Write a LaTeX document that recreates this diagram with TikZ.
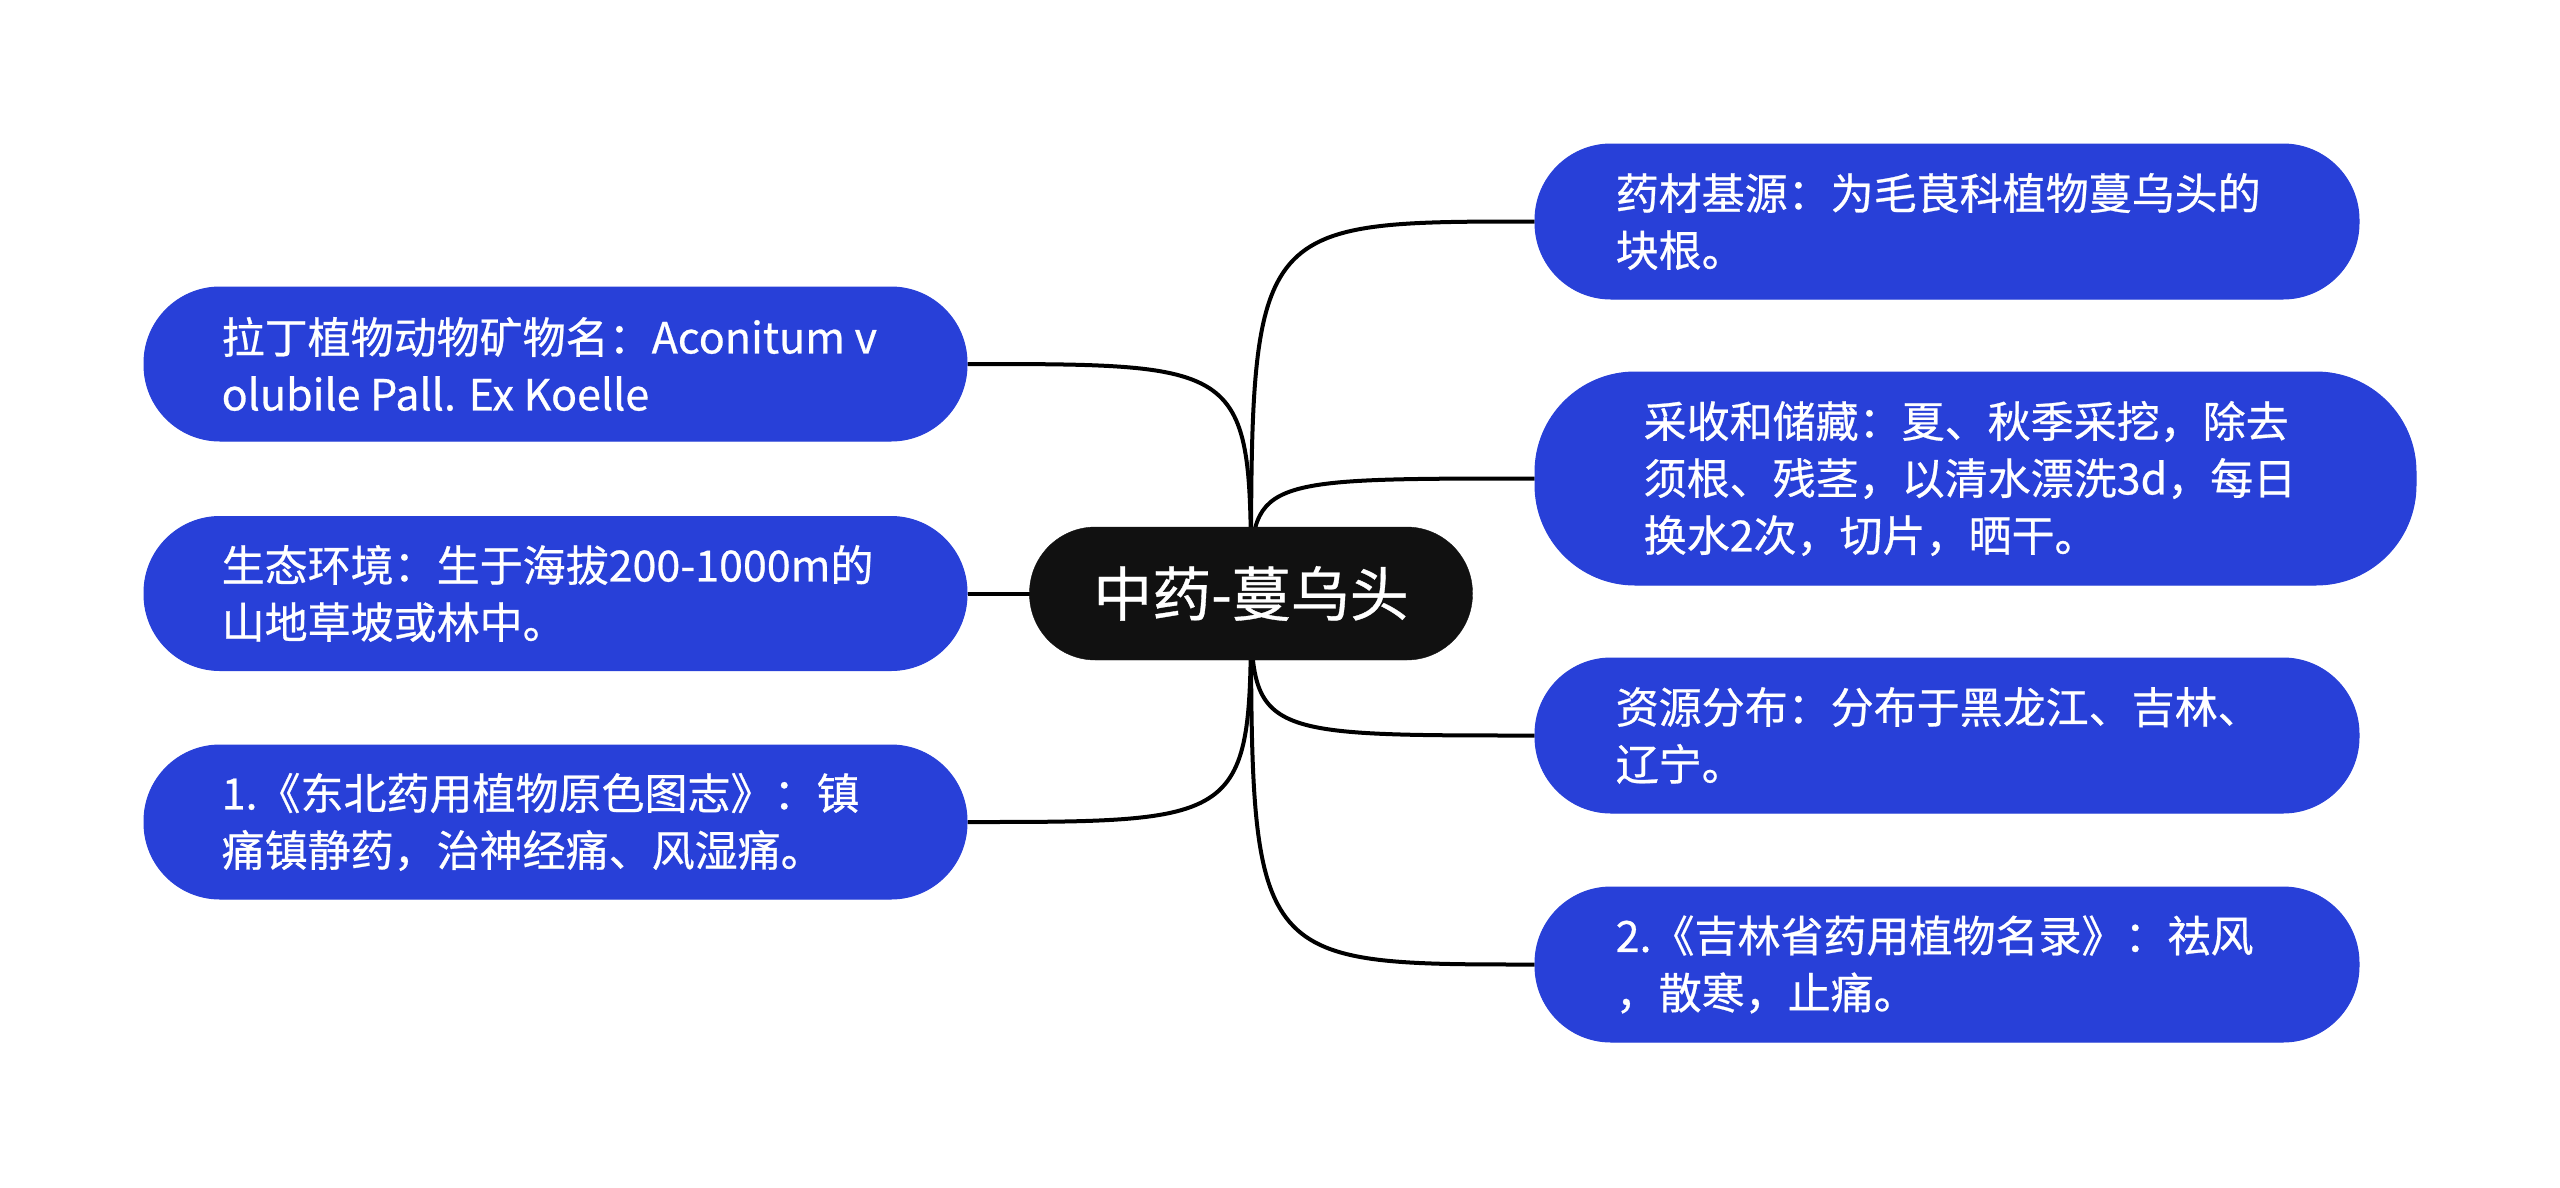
\documentclass[tikz,border=0pt]{standalone}
\usepackage{fontspec}
\setmainfont{Noto Sans CJK SC}[FakeBold=0.6]
\usetikzlibrary{backgrounds}
\definecolor{leafblue}{RGB}{40,64,216}
\definecolor{rootblack}{RGB}{17,17,17}
\tikzset{
  leaf/.style={fill=leafblue, draw=leafblue, line width=1pt, inner sep=0pt},
  leafsmall/.style={leaf, minimum width=823pt, minimum height=154pt, rounded corners=76pt},
  leafbig/.style={leaf, minimum width=881pt, minimum height=213pt, rounded corners=100pt},
  txt/.style={anchor=west, align=left, text=white, inner sep=0pt, font=\fontsize{43}{57}\selectfont},
  root/.style={fill=rootblack, draw=rootblack, text=white, inner sep=0pt,
    minimum width=443pt, minimum height=133pt, rounded corners=66pt,
    font=\fontsize{59}{62}\selectfont},
  conn/.style={draw=black, line width=4pt}
}
\begin{document}
\begin{tikzpicture}[x=1pt,y=-1pt]
\useasboundingbox (0,0) rectangle (2560,1187);

\node[root] (c) at (1251,593.5) {中药-蔓乌头};

\node[leafsmall] (l1) at (555.5,364) {};
\node[leafsmall] (l2) at (555.5,593.5) {};
\node[leafsmall] (l3) at (555.5,822) {};
\node[leafsmall, minimum width=824pt, minimum height=155pt] (r1) at (1947,221.5) {};
\node[leafbig] (r2) at (1975.5,478.5) {};
\node[leafsmall, minimum width=824pt, minimum height=155pt] (r3) at (1947,735.5) {};
\node[leafsmall, minimum width=824pt, minimum height=155pt] (r4) at (1947,964.5) {};

\node[txt] (l1t) at ([xshift=78pt]l1.west) {拉丁植物动物矿物名：Aconitum v\\olubile Pall. Ex Koelle};
\node[txt] (l2t) at ([xshift=78pt]l2.west) {生态环境：生于海拔200-1000m的\\山地草坡或林中。};
\node[txt] (l3t) at ([xshift=78pt]l3.west) {1.《东北药用植物原色图志》：镇\\痛镇静药，治神经痛、风湿痛。};
\node[txt] (r1t) at ([xshift=81pt]r1.west) {药材基源：为毛茛科植物蔓乌头的\\块根。};
\node[txt] (r2t) at ([xshift=109pt]r2.west) {采收和储藏：夏、秋季采挖，除去\\须根、残茎，以清水漂洗3d，每日\\换水2次，切片，晒干。};
\node[txt] (r3t) at ([xshift=81pt]r3.west) {资源分布：分布于黑龙江、吉林、\\辽宁。};
\node[txt] (r4t) at ([xshift=81pt]r4.west) {2.《吉林省药用植物名录》：祛风\\，散寒，止痛。};

\begin{scope}[on background layer]
  \fill[white] (0,0) rectangle (2560,1187);
  \foreach \t/\a in {l1/east,l2/east,l3/east,r1/west,r2/west,r3/west,r4/west}{
    \draw[conn] (c.center) .. controls (c.center |- \t.\a) .. (\t.\a);
  }
\end{scope}
\end{tikzpicture}
\end{document}
